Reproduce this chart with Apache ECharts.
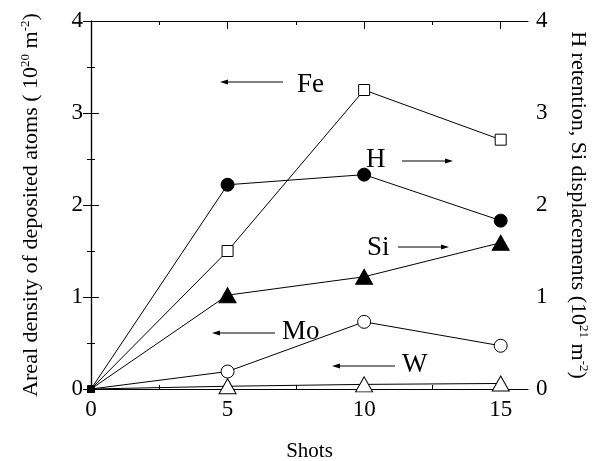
<!DOCTYPE html>
<html>
<head>
<meta charset="utf-8">
<script src="https://cdn.jsdelivr.net/npm/echarts@6/dist/echarts.min.js"></script>
<style>
  html, body { margin: 0; padding: 0; background: #fff; }
  #chart { width: 592px; height: 461px; }
</style>
</head>
<body>
<div id="chart"></div>
<script>
// data
var shots = [0, 5, 10, 15];
var fe = [0, 1.50, 3.25, 2.71];
var mo = [0, 0.19, 0.73, 0.47];
var w = [0, 0.03, 0.05, 0.06];
var h = [0, 2.22, 2.33, 1.83];
var si = [0, 1.02, 1.22, 1.59];

var majorX = [0, 5, 10, 15];
var minorX = [2.5, 7.5, 12.5];

var font = 'Liberation Serif';

function pairs(ys) {
    return shots.map(function (x, i) { return [x, ys[i]]; });
}

function mkSeries(name, ys, symbol, size, filled, yIdx) {
    return {
        name: name,
        type: 'line',
        yAxisIndex: yIdx,
        data: pairs(ys),
        symbol: symbol,
        // the origin point is only a small blob in the corner
        symbolSize: function (v) { return v[0] === 0 ? 7 : size; },
        showAllSymbol: true,
        clip: true,
        lineStyle: {color: '#000', width: 1},
        itemStyle: {color: filled ? '#000' : '#fff', borderColor: '#000', borderWidth: 1, opacity: 1},
        emphasis: {disabled: true},
        z: 3
    };
}

var tickText = {
    formatter: '{t|{value}}',
    rich: {t: {fontFamily: font, fontSize: 23, color: '#000'}}
};

function xAx(pos, ticks, len, showLine, showLabel) {
    return {
        type: 'value', position: pos, min: 0, max: 16,
        axisLine: {show: showLine, onZero: false, lineStyle: {color: '#000', width: 1.2}},
        axisTick: {show: true, inside: true, length: len, customValues: ticks, lineStyle: {color: '#000'}},
        axisLabel: Object.assign({show: showLabel, customValues: majorX, margin: 9}, tickText),
        splitLine: {show: false}
    };
}

function yAx(pos, name, rot, gap) {
    return {
        type: 'value', position: pos, min: 0, max: 4, interval: 1,
        name: name, nameLocation: 'middle', nameRotate: rot, nameGap: gap,
        nameTextStyle: {
            color: '#000', fontFamily: font, fontSize: 22,
            rich: {
                b: {fontFamily: font, fontSize: 22, color: '#000', lineHeight: 24},
                s: {fontFamily: font, fontSize: 13, color: '#000', verticalAlign: 'top', lineHeight: 24}
            }
        },
        axisLine: {show: true, lineStyle: {color: '#000', width: 1.2}},
        axisTick: {show: true, inside: true, length: 8, lineStyle: {color: '#000'}},
        minorTick: {show: true, splitNumber: 2, length: 4, lineStyle: {color: '#000'}},
        axisLabel: Object.assign({margin: 8}, tickText),
        splitLine: {show: false}
    };
}

// arrow annotation helpers (pixel placement)
function arrow(x1, x2, y) {
    var dir = x2 > x1 ? 1 : -1;
    return [
        {type: 'line', shape: {x1: x1, y1: y, x2: x2 - dir * 6, y2: y}, style: {stroke: '#000', lineWidth: 1}},
        {type: 'polygon', shape: {points: [[x2, y], [x2 - dir * 8, y - 2.5], [x2 - dir * 8, y + 2.5]]}, style: {fill: '#000'}}
    ];
}
function label(txt, x, y) {
    return {type: 'text', left: x, top: y, style: {text: txt, font: '27px "Liberation Serif"', fill: '#000'}};
}

var graphics = [].concat(
    label('Fe', 297, 71), arrow(283, 220, 82),
    label('H', 366, 146), arrow(402, 453, 161),
    label('Si', 367, 234), arrow(398, 449, 247),
    label('Mo', 282, 318), arrow(275, 212, 333),
    label('W', 402, 351), arrow(395, 332, 366)
);

var chart = echarts.init(document.getElementById('chart'), null, {renderer: 'canvas'});
var xs = [
    xAx('bottom', majorX, 8, true, true),
    xAx('bottom', minorX, 4, false, false),
    xAx('top', majorX, 8, true, false),
    xAx('top', minorX, 4, false, false)
];
xs[0].name = '{n|Shots}';
xs[0].nameLocation = 'middle';
xs[0].nameGap = 52;
xs[0].nameTextStyle = {rich: {n: {fontFamily: font, fontSize: 21, color: '#000'}}};

chart.setOption({
    backgroundColor: '#fff',
    animation: false,
    textStyle: {fontFamily: font, color: '#000'},
    grid: {left: 91, right: 64, top: 21, bottom: 72, containLabel: false, outerBoundsMode: 'none'},
    xAxis: xs,
    yAxis: [
        yAx('left', '{b|Areal density of deposited atoms ( 10}{s|20}{b| m}{s|-2}{b|)}', 90, 48),
        yAx('right', '{b|H retention, Si displacements (10}{s|21}{b| m}{s|-2}{b|)}', -90, 38)
    ],
    series: [
        mkSeries('Fe', fe, 'rect', 11, false, 0),
        mkSeries('Mo', mo, 'circle', 13, false, 0),
        mkSeries('W', w, 'triangle', [17, 15], false, 0),
        mkSeries('H', h, 'circle', 13, true, 1),
        mkSeries('Si', si, 'triangle', [17, 15], true, 1)
    ],
    graphic: graphics
});
</script>
</body>
</html>
